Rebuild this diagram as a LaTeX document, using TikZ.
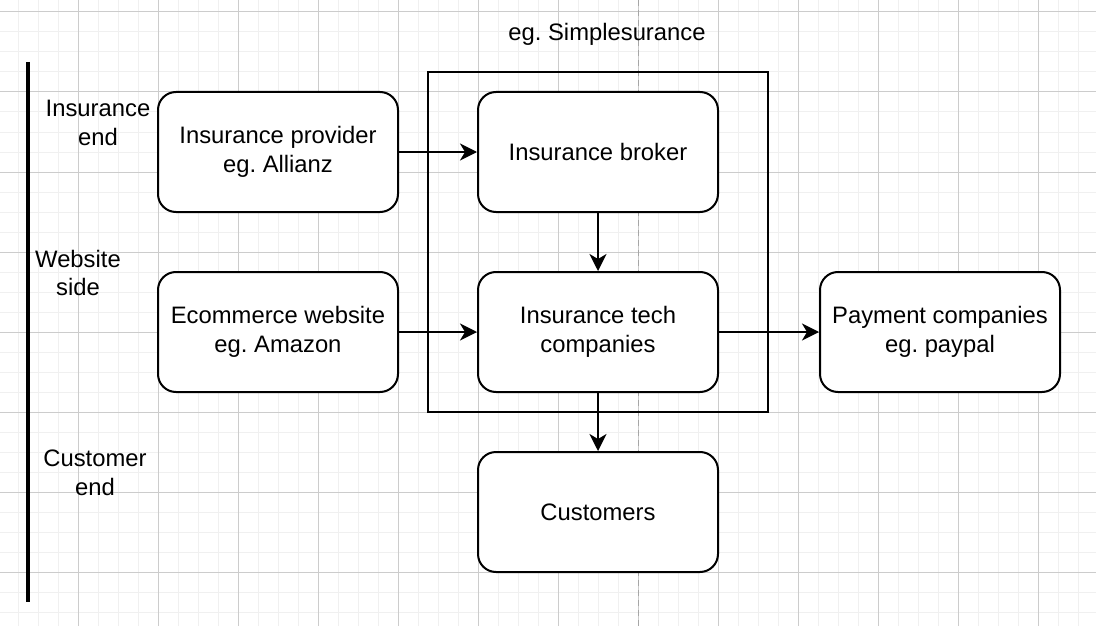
\documentclass[tikz,border=0pt]{standalone}
\usepackage{fontspec}
\setmainfont{Liberation Sans}
\usetikzlibrary{arrows.meta}
\frenchspacing

\begin{document}
\begin{tikzpicture}[x=1pt, y=-1pt,
    txt/.style={align=center, inner sep=0pt, font=\fontsize{23.8}{28.6}\selectfont},
    box/.style={txt, draw, line width=2pt, fill=white, rounded corners=18pt,
                minimum width=240pt, minimum height=120pt},
    link/.style={line width=2pt, -{Stealth[length=17pt, width=17pt, inset=5pt]}},
    gridminor/.style={color=black!6, line width=1pt},
    gridmajor/.style={color=black!20, line width=1pt}]
    % Fixed Bounding Box for alignment
    \useasboundingbox (0,0) rectangle (1096,626);
    \fill[white] (0,0) rectangle (1096,626);

    % Background grid
    \foreach \gx in {18,38,...,1096} \draw[gridminor] (\gx,0) -- (\gx,626);
    \foreach \gy in {12,32,...,626} \draw[gridminor] (0,\gy) -- (1096,\gy);
    \foreach \gx in {78,158,...,1096} \draw[gridmajor] (\gx,0) -- (\gx,626);
    \foreach \gy in {12,92,...,626} \draw[gridmajor] (0,\gy) -- (1096,\gy);
    \draw[black!35, line width=1pt, dash pattern=on 6pt off 4pt] (638,0) -- (638,626);

    % Side bar and row labels
    \draw[line width=4pt] (28,62) -- (28,602);
    \node[txt] (insend) at (98,123) {Insurance\\end};
    \node[txt] (webside) at (78,273) {Website\\side};
    \node[txt] (custend) at (95,473) {Customer\\end};

    % Middle frame
    \node[draw, line width=2pt, minimum width=340pt, minimum height=340pt] (frame) at (598,242) {};
    \node[txt] (simple) at (607,34) {eg. Simplesurance};

    % Boxes
    \node[box] (provider) at (278,152) {Insurance provider\\eg. Allianz};
    \node[box] (broker) at (598,152) {Insurance broker};
    \node[box] (ecom) at (278,332) {Ecommerce website\\eg. Amazon};
    \node[box] (tech) at (598,332) {Insurance tech\\companies};
    \node[box] (payment) at (940,332) {Payment companies\\eg. paypal};
    \node[box] (customers) at (598,512) {Customers};

    % Arrows
    \draw[link] (provider) -- (broker);
    \draw[link] (broker) -- (tech);
    \draw[link] (ecom) -- (tech);
    \draw[link] (tech) -- (payment);
    \draw[link] (tech) -- (customers);
\end{tikzpicture}
\end{document}
